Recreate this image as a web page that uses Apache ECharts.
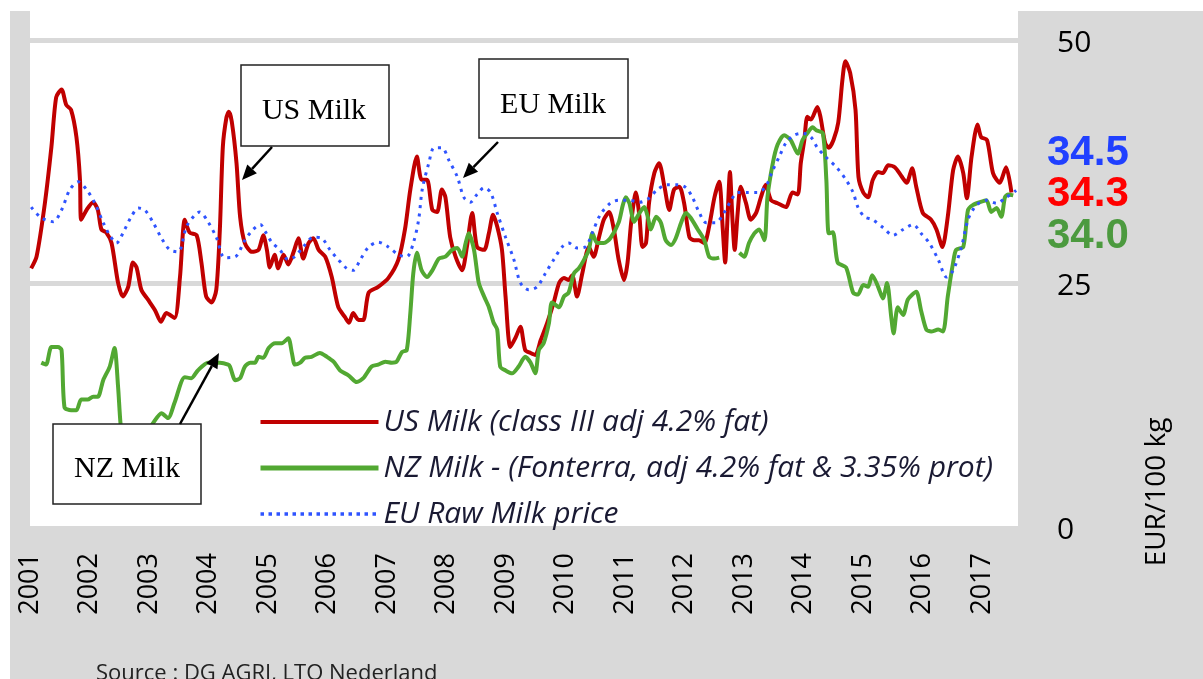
<!DOCTYPE html>
<html>
<head>
<meta charset="utf-8">
<script src="https://cdn.jsdelivr.net/npm/echarts@6/dist/echarts.min.js"></script>
<style>
  html, body { margin: 0; padding: 0; background: #fff; }
  #frame { position: absolute; left: 10px; top: 11px; width: 1193px; height: 668px; background: #d9d9d9; }
  #chart { position: absolute; left: 0; top: 0; width: 1203px; height: 679px; }
</style>
</head>
<body>
<div id="frame"></div>
<div id="chart"></div>
<script>
// tick labels
const yearLabels = ['2001', '2002', '2003', '2004', '2005', '2006', '2007', '2008', '2009',
  '2010', '2011', '2012', '2013', '2014', '2015', '2016', '2017'];
const priceLabels = ['0', '25', '50'];

// [decimal year, EUR/100 kg]
const usMilk = [
  [2001.02, 26.5], [2001.11, 27.7], [2001.25, 33.2], [2001.36, 39.0], [2001.44, 44.1], [2001.53, 44.9],
  [2001.61, 43.3], [2001.69, 42.8], [2001.78, 40.0], [2001.84, 35.6], [2001.86, 31.5], [2001.95, 32.5],
  [2002.06, 33.3], [2002.14, 32.5], [2002.20, 30.5], [2002.28, 30.2], [2002.37, 29.1], [2002.48, 25.0],
  [2002.56, 23.6], [2002.65, 24.6], [2002.73, 27.1], [2002.79, 26.6], [2002.87, 24.3], [2002.98, 23.3],
  [2003.10, 22.2], [2003.20, 21.0], [2003.29, 21.9], [2003.43, 21.4], [2003.52, 25.6], [2003.60, 31.5],
  [2003.68, 30.2], [2003.80, 29.9], [2003.88, 27.1], [2003.96, 23.6], [2004.05, 23.0], [2004.13, 24.3],
  [2004.19, 30.5], [2004.24, 39.0], [2004.30, 42.0], [2004.34, 42.6], [2004.39, 41.6], [2004.47, 37.3],
  [2004.53, 31.8], [2004.61, 29.1], [2004.73, 28.2], [2004.84, 28.4], [2004.92, 29.9], [2004.98, 28.4],
  [2005.03, 26.6], [2005.11, 27.9], [2005.17, 26.5], [2005.26, 27.9], [2005.34, 26.9], [2005.43, 28.2],
  [2005.51, 29.6], [2005.59, 27.5], [2005.68, 29.1], [2005.76, 29.6], [2005.85, 28.4], [2005.96, 27.7],
  [2006.07, 25.6], [2006.18, 22.5], [2006.29, 21.5], [2006.36, 20.9], [2006.43, 21.9], [2006.52, 21.2],
  [2006.60, 21.2], [2006.69, 24.0], [2006.85, 24.6], [2007.02, 25.5], [2007.19, 27.4], [2007.30, 30.5],
  [2007.39, 34.6], [2007.50, 38.0], [2007.58, 35.6], [2007.67, 35.6], [2007.76, 32.5], [2007.84, 32.3],
  [2007.92, 34.6], [2007.98, 33.8], [2008.06, 29.7], [2008.15, 27.7], [2008.26, 26.3], [2008.34, 28.7],
  [2008.43, 32.2], [2008.51, 28.7], [2008.63, 28.4], [2008.71, 30.1], [2008.78, 32.0], [2008.85, 30.8],
  [2008.93, 28.4], [2008.99, 23.6], [2009.07, 18.4], [2009.16, 19.4], [2009.24, 20.5], [2009.32, 18.1],
  [2009.41, 17.8], [2009.49, 17.6], [2009.58, 19.1], [2009.69, 20.9], [2009.80, 23.0], [2009.89, 25.0],
  [2009.97, 25.5], [2010.05, 25.3], [2010.11, 25.8], [2010.19, 23.6], [2010.28, 26.0], [2010.39, 28.7],
  [2010.47, 27.7], [2010.56, 29.7], [2010.64, 31.5], [2010.73, 32.3], [2010.81, 30.5], [2010.89, 27.4],
  [2010.98, 25.3], [2011.04, 27.1], [2011.10, 31.2], [2011.18, 34.3], [2011.24, 31.8], [2011.29, 28.7],
  [2011.35, 29.1], [2011.40, 33.2], [2011.49, 36.3], [2011.57, 37.3], [2011.66, 34.9], [2011.74, 32.5],
  [2011.82, 34.6], [2011.91, 34.9], [2011.99, 33.2], [2012.08, 29.7], [2012.16, 29.4], [2012.24, 29.4],
  [2012.33, 29.1], [2012.41, 30.8], [2012.50, 33.8], [2012.58, 35.4], [2012.64, 30.5], [2012.68, 27.1],
  [2012.72, 31.8], [2012.76, 36.4], [2012.80, 31.8], [2012.84, 28.4], [2012.89, 32.2], [2012.94, 34.9],
  [2013.03, 33.2], [2013.11, 31.5], [2013.20, 32.2], [2013.28, 33.8], [2013.36, 35.1], [2013.45, 33.5],
  [2013.56, 33.2], [2013.70, 32.8], [2013.81, 34.3], [2013.90, 34.1], [2013.95, 37.3], [2014.01, 39.7],
  [2014.06, 42.1], [2014.12, 41.8], [2014.23, 43.1], [2014.28, 42.1], [2014.36, 39.4], [2014.42, 38.9],
  [2014.50, 39.7], [2014.58, 41.5], [2014.65, 45.9], [2014.70, 47.8], [2014.78, 46.6], [2014.87, 42.8],
  [2014.92, 35.9], [2015.00, 34.3], [2015.08, 33.8], [2015.16, 35.6], [2015.25, 36.4], [2015.33, 36.3],
  [2015.42, 37.1], [2015.53, 36.9], [2015.64, 36.0], [2015.73, 35.3], [2015.82, 36.8], [2015.89, 34.9],
  [2016.00, 32.2], [2016.14, 31.5], [2016.23, 30.5], [2016.33, 28.7], [2016.42, 31.8], [2016.51, 36.6],
  [2016.59, 38.0], [2016.68, 36.3], [2016.74, 33.7], [2016.82, 38.0], [2016.92, 41.3], [2016.98, 40.0],
  [2017.08, 39.7], [2017.18, 36.3], [2017.29, 35.3], [2017.40, 36.9], [2017.49, 34.3]
];

const nzMilk = [
  [2001.19, 16.8], [2001.27, 16.6], [2001.36, 18.4], [2001.47, 18.4], [2001.53, 18.1], [2001.58, 12.2],
  [2001.69, 11.9], [2001.78, 11.9], [2001.86, 13.0], [2001.97, 13.0], [2002.06, 13.3], [2002.14, 13.3],
  [2002.23, 15.0], [2002.34, 16.4], [2002.42, 18.3], [2002.48, 14.3], [2002.52, 10.6], [2002.56, 9.0],
  [2002.75, 8.6], [2002.95, 9.4], [2003.07, 10.6], [2003.21, 11.6], [2003.32, 11.1], [2003.43, 12.7],
  [2003.60, 15.3], [2003.71, 15.2], [2003.82, 16.0], [2003.99, 16.8], [2004.19, 16.8], [2004.33, 16.6],
  [2004.36, 16.4], [2004.45, 15.0], [2004.53, 15.2], [2004.61, 16.4], [2004.70, 16.8], [2004.78, 16.8],
  [2004.84, 17.4], [2004.92, 17.3], [2005.01, 18.3], [2005.12, 18.8], [2005.23, 18.8], [2005.34, 19.3],
  [2005.40, 17.8], [2005.45, 16.6], [2005.54, 16.8], [2005.62, 17.3], [2005.73, 17.4], [2005.87, 17.8],
  [2005.99, 17.4], [2006.10, 16.9], [2006.21, 16.0], [2006.35, 15.5], [2006.49, 14.8], [2006.60, 15.2],
  [2006.74, 16.4], [2006.85, 16.6], [2006.97, 16.9], [2007.08, 16.8], [2007.16, 16.9], [2007.25, 17.9],
  [2007.33, 18.1], [2007.39, 21.9], [2007.44, 26.0], [2007.50, 28.1], [2007.58, 26.3], [2007.67, 25.6],
  [2007.76, 26.3], [2007.87, 27.5], [2007.98, 27.7], [2008.09, 28.4], [2008.18, 28.6], [2008.26, 27.7],
  [2008.32, 29.1], [2008.37, 30.1], [2008.46, 28.4], [2008.54, 25.0], [2008.63, 23.6], [2008.71, 22.5],
  [2008.79, 20.9], [2008.85, 20.2], [2008.90, 16.4], [2008.99, 16.0], [2009.10, 15.7], [2009.21, 16.4],
  [2009.32, 17.4], [2009.41, 16.8], [2009.49, 15.7], [2009.55, 18.1], [2009.63, 18.8], [2009.72, 20.9],
  [2009.77, 23.0], [2009.89, 22.5], [2009.97, 23.6], [2010.05, 24.0], [2010.14, 26.0], [2010.22, 26.5],
  [2010.31, 27.4], [2010.39, 28.4], [2010.45, 30.1], [2010.53, 29.1], [2010.64, 29.1], [2010.75, 29.6],
  [2010.89, 31.2], [2010.96, 33.0], [2011.01, 33.8], [2011.07, 33.2], [2011.15, 31.3], [2011.24, 32.2],
  [2011.32, 32.8], [2011.38, 31.8], [2011.43, 30.5], [2011.52, 31.8], [2011.60, 31.2], [2011.68, 29.4],
  [2011.77, 28.9], [2011.85, 29.6], [2011.94, 31.2], [2012.02, 32.2], [2012.10, 31.7], [2012.22, 30.5],
  [2012.33, 29.4], [2012.41, 27.7], [2012.50, 27.5], [2012.58, 27.6], [2012.75, null], [2012.92, 28.1],
  [2013.00, 27.7], [2013.08, 29.1], [2013.17, 30.1], [2013.25, 30.5], [2013.34, 29.4], [2013.39, 33.8],
  [2013.48, 37.3], [2013.56, 39.2], [2013.67, 40.2], [2013.78, 39.7], [2013.90, 38.3], [2013.98, 39.7],
  [2014.06, 40.4], [2014.15, 41.0], [2014.21, 40.7], [2014.32, 40.4], [2014.38, 35.6], [2014.42, 30.1],
  [2014.49, 30.2], [2014.57, 27.1], [2014.71, 26.6], [2014.83, 24.0], [2014.91, 23.8], [2015.00, 24.8],
  [2015.08, 24.6], [2015.15, 25.8], [2015.25, 24.6], [2015.33, 23.4], [2015.40, 25.0], [2015.47, 21.5],
  [2015.51, 19.8], [2015.58, 22.5], [2015.67, 21.7], [2015.75, 23.3], [2015.89, 24.1], [2015.97, 22.2],
  [2016.06, 20.2], [2016.14, 20.0], [2016.26, 20.2], [2016.34, 20.0], [2016.42, 23.6], [2016.51, 27.1],
  [2016.56, 28.4], [2016.68, 28.7], [2016.76, 32.5], [2016.84, 33.0], [2016.96, 33.3], [2017.07, 33.5],
  [2017.15, 32.3], [2017.24, 32.7], [2017.32, 31.8], [2017.38, 33.8], [2017.43, 34.1], [2017.52, 34.0]
];

const euMilk = [
  [2001.02, 32.8], [2001.19, 31.7], [2001.39, 31.3], [2001.53, 32.5], [2001.67, 34.6], [2001.81, 35.4],
  [2001.95, 34.6], [2002.09, 33.2], [2002.23, 31.2], [2002.34, 29.9], [2002.45, 29.1], [2002.59, 30.5],
  [2002.70, 31.8], [2002.82, 32.7], [2002.93, 32.5], [2003.07, 31.2], [2003.21, 29.6], [2003.35, 28.4],
  [2003.49, 28.2], [2003.63, 30.8], [2003.77, 32.0], [2003.85, 32.3], [2003.99, 31.3], [2004.13, 29.7],
  [2004.27, 27.6], [2004.45, 27.7], [2004.61, 29.4], [2004.75, 30.5], [2004.87, 31.0], [2004.95, 30.3],
  [2005.06, 29.2], [2005.20, 28.4], [2005.34, 27.4], [2005.45, 27.7], [2005.59, 28.7], [2005.76, 29.7],
  [2005.90, 29.6], [2006.04, 28.4], [2006.18, 27.4], [2006.32, 26.5], [2006.43, 26.3], [2006.55, 27.4],
  [2006.69, 28.7], [2006.85, 29.2], [2007.02, 28.7], [2007.19, 27.9], [2007.33, 27.7], [2007.44, 29.1],
  [2007.53, 31.5], [2007.59, 34.6], [2007.70, 37.3], [2007.79, 38.9], [2007.92, 38.9], [2008.04, 37.6],
  [2008.18, 35.9], [2008.29, 33.8], [2008.40, 33.3], [2008.51, 34.1], [2008.63, 34.8], [2008.74, 34.3],
  [2008.85, 32.2], [2008.99, 29.7], [2009.13, 27.4], [2009.24, 25.0], [2009.38, 24.3], [2009.52, 24.6],
  [2009.66, 26.0], [2009.80, 27.4], [2009.94, 28.7], [2010.05, 29.1], [2010.19, 28.6], [2010.33, 28.7],
  [2010.45, 30.2], [2010.58, 32.0], [2010.75, 33.2], [2010.89, 33.5], [2011.07, 33.5], [2011.24, 33.3],
  [2011.40, 33.7], [2011.54, 34.6], [2011.71, 35.1], [2011.88, 35.1], [2012.02, 34.8], [2012.13, 33.8],
  [2012.24, 32.3], [2012.36, 31.2], [2012.52, 31.2], [2012.66, 32.2], [2012.78, 33.5], [2012.89, 34.3],
  [2013.06, 34.3], [2013.22, 34.3], [2013.36, 34.9], [2013.48, 36.6], [2013.59, 38.0], [2013.70, 39.4],
  [2013.84, 40.2], [2013.98, 40.4], [2014.12, 40.0], [2014.23, 38.9], [2014.38, 37.9], [2014.55, 36.9],
  [2014.71, 35.6], [2014.83, 34.3], [2014.91, 32.8], [2015.02, 31.8], [2015.16, 31.5], [2015.33, 30.7],
  [2015.50, 29.9], [2015.67, 30.5], [2015.84, 31.0], [2015.97, 30.1], [2016.11, 29.1], [2016.26, 27.4],
  [2016.40, 25.6], [2016.51, 26.3], [2016.65, 28.7], [2016.76, 31.5], [2016.90, 33.0], [2017.07, 33.5],
  [2017.24, 33.2], [2017.40, 33.8], [2017.57, 34.5]
];

const seriesNames = ['US Milk (class III adj 4.2% fat)', 'NZ Milk - (Fonterra, adj 4.2% fat & 3.35% prot)', 'EU Raw Milk price'];
const latestValues = ['34.5', '34.3', '34.0'];

const chart = echarts.init(document.getElementById('chart'));

function callout(x, y, w, h, label, tx, ty, from, tip) {
  // box + arrow; arrow head built from the direction of the line
  const dx = tip[0] - from[0], dy = tip[1] - from[1];
  const len = Math.sqrt(dx * dx + dy * dy);
  const ux = dx / len, uy = dy / len;
  const bx = tip[0] - 15 * ux, by = tip[1] - 15 * uy;
  const px = -uy * 6.5, py = ux * 6.5;
  return [
    { type: 'rect', z: 100, shape: { x: x, y: y, width: w, height: h },
      style: { fill: '#fff', stroke: '#222', lineWidth: 1.5 } },
    { type: 'text', z: 101, x: tx, y: ty,
      style: { text: label, font: '30px "Liberation Serif"', fill: '#000', align: 'center', verticalAlign: 'middle' } },
    { type: 'line', z: 100, shape: { x1: from[0], y1: from[1], x2: bx, y2: by },
      style: { stroke: '#000', lineWidth: 2.5 } },
    { type: 'polygon', z: 100, shape: { points: [tip, [bx + px, by + py], [bx - px, by - py]] },
      style: { fill: '#000' } }
  ];
}

const option = {
  backgroundColor: 'transparent',
  animation: false,
  grid: { left: 30, right: 185, top: 0, bottom: 153, show: true, backgroundColor: '#fff', borderWidth: 0 },
  xAxis: {
    type: 'value', min: 2001, max: 2017.6, interval: 1,
    axisLine: { show: false }, axisTick: { show: false }, splitLine: { show: false },
    axisLabel: {
      rotate: 90, margin: 27, fontSize: 27, color: '#000', fontFamily: 'Open Sans',
      formatter: function (v) {
        if (Math.abs(v - Math.round(v)) > 0.01) return '';
        return yearLabels[Math.round(v) - 2001] || '';
      }
    }
  },
  yAxis: {
    type: 'value', position: 'right', min: 0, max: 54.1, interval: 25,
    axisLine: { show: false }, axisTick: { show: false },
    axisLabel: {
      margin: 39, color: '#000',
      formatter: function (v) {
        if (Math.abs(v % 25) > 0.01) return '';
        return '{p|' + (priceLabels[Math.round(v / 25)] || '') + '}';
      },
      rich: { p: { fontSize: 30, fontFamily: 'Open Sans', color: '#000', padding: [8, 0, 0, 0] } }
    },
    splitLine: { show: true, lineStyle: { color: ['rgba(0,0,0,0)', '#d9d9d9', '#d9d9d9', 'rgba(0,0,0,0)'], width: 5 } }
  },
  legend: {
    left: 253, top: 402, orient: 'vertical',
    itemWidth: 118, itemHeight: 14, itemGap: 16, itemTextGap: 12,
    itemStyle: { opacity: 0 },
    textStyle: { fontSize: 30, fontStyle: 'italic', fontFamily: 'Open Sans', color: '#1a1a33', lineHeight: 30 },
    data: [
      { name: seriesNames[0], lineStyle: { width: 4, color: '#c00000' } },
      { name: seriesNames[1], lineStyle: { width: 5, color: '#52a832' } },
      { name: seriesNames[2], lineStyle: { width: 3.5, color: '#2f54ff', type: [3.5, 4.5] } }
    ]
  },
  series: [
    { name: seriesNames[0], type: 'line', data: usMilk, smooth: 0.25, symbol: 'none', showSymbol: false,
      lineStyle: { color: '#c00000', width: 4 }, itemStyle: { color: '#c00000' } },
    { name: seriesNames[1], type: 'line', data: nzMilk, smooth: 0.25, symbol: 'none', showSymbol: false,
      connectNulls: false, lineStyle: { color: '#52a832', width: 4 }, itemStyle: { color: '#52a832' } },
    { name: seriesNames[2], type: 'line', data: euMilk, smooth: 0.3, symbol: 'none', showSymbol: false,
      lineStyle: { color: '#2f54ff', width: 3, type: [3, 5.3] }, itemStyle: { color: '#2f54ff' } }
  ],
  graphic: [].concat(
    callout(241, 65, 148, 81, 'US Milk', 314, 111, [272, 147], [242, 180]),
    callout(479, 59, 149, 79, 'EU Milk', 553, 105, [498, 142], [463, 178]),
    callout(53, 424, 148, 80, 'NZ Milk', 127, 469, [180, 424], [219, 353]),
    [
      { type: 'text', z: 100, x: 1047, y: 153,
        style: { text: latestValues[0], font: 'bold 42px "Liberation Sans"', fill: '#2040ff', verticalAlign: 'middle' } },
      { type: 'text', z: 100, x: 1047, y: 194,
        style: { text: latestValues[1], font: 'bold 42px "Liberation Sans"', fill: '#ff0000', verticalAlign: 'middle' } },
      { type: 'text', z: 100, x: 1047, y: 236,
        style: { text: latestValues[2], font: 'bold 42px "Liberation Sans"', fill: '#4c9a3f', verticalAlign: 'middle' } },
      { type: 'text', z: 100, x: 1157, y: 492, rotation: Math.PI / 2,
        style: { text: 'EUR/100 kg', font: '28px "Open Sans"', fill: '#000', align: 'center', verticalAlign: 'middle' } },
      { type: 'text', z: 100, x: 96, y: 663,
        style: { text: 'Source : DG AGRI, LTO Nederland', font: '22px "Open Sans"', fill: '#222', verticalAlign: 'top' } }
    ]
  )
};

chart.setOption(option);

window.addEventListener('resize', function () {
  chart.resize();
});
</script>
</body>
</html>
